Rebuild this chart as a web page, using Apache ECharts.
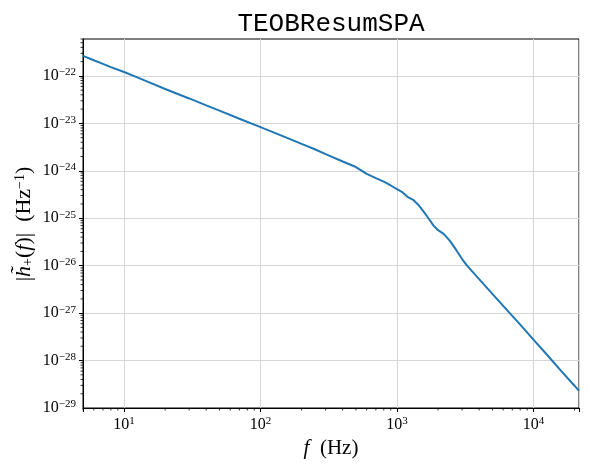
<!DOCTYPE html>
<html>
<head>
<meta charset="utf-8">
<script src="https://cdn.jsdelivr.net/npm/echarts@6/dist/echarts.min.js"></script>
<style>html,body{margin:0;padding:0;background:#fff;}#c{width:589px;height:467px;}</style>
</head>
<body>
<div id="c"></div>
<script>
// ---- data ----
const freq = [5,6,7,8,10,12,15,20,25,30,40,50,70,100,150,200,250,300,400,500,600,700,800,900,1000,1100,1200,1324,1450,1567,1700,1854,2000,2200,2450,2700,3000,3260,4000,5000,6380,8000,10000,13000,16000,20000,21570];
const hplus = [2.65e-22,2.14e-22,1.79e-22,1.53e-22,1.21e-22,9.8e-23,7.5e-23,5.3e-23,4.1e-23,3.35e-23,2.39e-23,1.85e-23,1.25e-23,8.3e-24,5.2e-24,3.7e-24,2.85e-24,2.25e-24,1.57e-24,1.2e-24,8.6e-25,7.0e-25,5.9e-25,4.9e-25,4.1e-25,3.5e-25,2.8e-25,2.4e-25,1.85e-25,1.38e-25,1.0e-25,7.0e-26,5.6e-26,4.7e-26,3.3e-26,2.2e-26,1.38e-26,1.0e-26,5.2e-27,2.55e-27,1.17e-27,5.7e-28,2.76e-28,1.19e-28,6.0e-29,2.95e-29,2.3e-29];
const xMajorExp = [1,2,3,4];
const yMajorExp = [-29,-28,-27,-26,-25,-24,-23,-22];
const xMin = 5, xMax = 21570, yMin = 1e-29, yMax = 6e-22;
const titleText = 'TEOBResumSPA';
const xName = '{i|f}  (Hz)';
const yName = '|{i|h\u0303}{sub|+}({i|f})|  (Hz{sup|\u22121})';

// minor tick positions (axis decoration)
const xMinor = [];
for (let k = 0; k <= 4; k++) for (let m = 2; m <= 9; m++) { const v = m * Math.pow(10, k); if (v >= xMin && v <= xMax) xMinor.push([v, yMin]); }
const yMinor = [];
for (let k = -29; k <= -22; k++) for (let m = 2; m <= 9; m++) { const v = m * Math.pow(10, k); if (v >= yMin && v <= yMax) yMinor.push([xMin, v]); }
const yLabelData = yMajorExp.map(e => [xMin, Number('1e' + e), e]);

const SERIF = '"Liberation Serif", "DejaVu Serif", serif';
function expLabel(e) { return '{b|10}{s|' + (e < 0 ? '\u2212' + (-e) : e) + '}'; }
function fmt(v, exps) {
  if (!(v > 0)) return '';
  const l = Math.log10(v), e = Math.round(l);
  if (Math.abs(l - e) > 1e-4 || exps.indexOf(e) < 0) return '';
  return expLabel(e);
}
const labelRich = {
  b: {fontSize: 16, fontFamily: SERIF, color: '#000', fill: '#000', lineHeight: 18, verticalAlign: 'middle'},
  s: {fontSize: 11, fontFamily: SERIF, color: '#000', fill: '#000', lineHeight: 12, verticalAlign: 'top'}
};

const chart = echarts.init(document.getElementById('c'), null, {renderer: 'canvas'});
chart.setOption({
  animation: false,
  backgroundColor: '#fff',
  title: {
    text: titleText,
    left: 326, top: 6, textAlign: 'center',
    textStyle: {fontFamily: '"Liberation Mono", "DejaVu Sans Mono", monospace', fontSize: 26, fontWeight: 'normal', color: '#000'}
  },
  grid: {left: 83, right: 10, top: 39, bottom: 59, show: true, borderColor: '#000', borderWidth: 1, outerBoundsMode: 'none', containLabel: false},
  graphic: [{
    type: 'text', x: 24, y: 224, rotation: Math.PI / 2, z: 10,
    style: {
      text: yName, align: 'center', verticalAlign: 'middle',
      fontFamily: SERIF, fontSize: 22, fill: '#000',
      rich: {
        i: {fontStyle: 'italic', fontFamily: SERIF, fontSize: 22, fill: '#000'},
        sub: {fontFamily: SERIF, fontSize: 14, verticalAlign: 'bottom', fill: '#000'},
        sup: {fontFamily: SERIF, fontSize: 14, verticalAlign: 'top', fill: '#000'}
      }
    }
  }],
  xAxis: {
    type: 'log', logBase: 10, min: xMin, max: xMax,
    name: xName, nameLocation: 'middle', nameGap: 30, nameMoveOverlap: false,
    nameTextStyle: {fontFamily: SERIF, fontSize: 21, color: '#000', rich: {i: {fontStyle: 'italic', fontFamily: SERIF, fontSize: 21}}},
    axisLine: {show: true, lineStyle: {color: '#000', width: 1}},
    axisTick: {show: true, length: 4, inside: false, lineStyle: {color: '#000'}},
    axisLabel: {margin: 8, formatter: v => fmt(v, xMajorExp), rich: labelRich, showMinLabel: true, showMaxLabel: true, hideOverlap: false},
    splitLine: {show: true, lineStyle: {color: '#d6d6d6', width: 1}},
    minorTick: {show: false}
  },
  yAxis: {
    type: 'log', logBase: 10, min: yMin, max: yMax,
    axisLine: {show: true, lineStyle: {color: '#000', width: 1}},
    axisTick: {show: true, length: 4, inside: false, lineStyle: {color: '#000'}},
    axisLabel: {show: false},
    splitLine: {show: true, lineStyle: {color: '#d6d6d6', width: 1}},
    minorTick: {show: false}
  },
  series: [
    {
      type: 'line', data: freq.map((f, i) => [f, hplus[i]]),
      showSymbol: false, symbol: 'none', smooth: false,
      lineStyle: {color: '#1f77b4', width: 2}, z: 3
    },
    {
      type: 'custom', data: xMinor, clip: false, silent: true, z: 4,
      renderItem: (params, api) => {
        const p = api.coord([api.value(0), api.value(1)]);
        return {type: 'line', shape: {x1: p[0], y1: p[1], x2: p[0], y2: p[1] + 2.5}, style: {stroke: '#000', lineWidth: 0.8}};
      }
    },
    {
      type: 'custom', data: yMinor, clip: false, silent: true, z: 4,
      renderItem: (params, api) => {
        const p = api.coord([api.value(0), api.value(1)]);
        return {type: 'line', shape: {x1: p[0] - 2.5, y1: p[1], x2: p[0], y2: p[1]}, style: {stroke: '#000', lineWidth: 0.8}};
      }
    },
    {
      type: 'custom', data: yLabelData, clip: false, silent: true, z: 5,
      renderItem: (params, api) => {
        const p = api.coord([api.value(0), api.value(1)]);
        const e = yLabelData[params.dataIndex][2];
        return {type: 'text', x: p[0] - 7, y: p[1], style: {text: expLabel(e), align: 'right', verticalAlign: 'middle', fill: '#000', rich: labelRich}};
      }
    }
  ]
});
</script>
</body>
</html>
